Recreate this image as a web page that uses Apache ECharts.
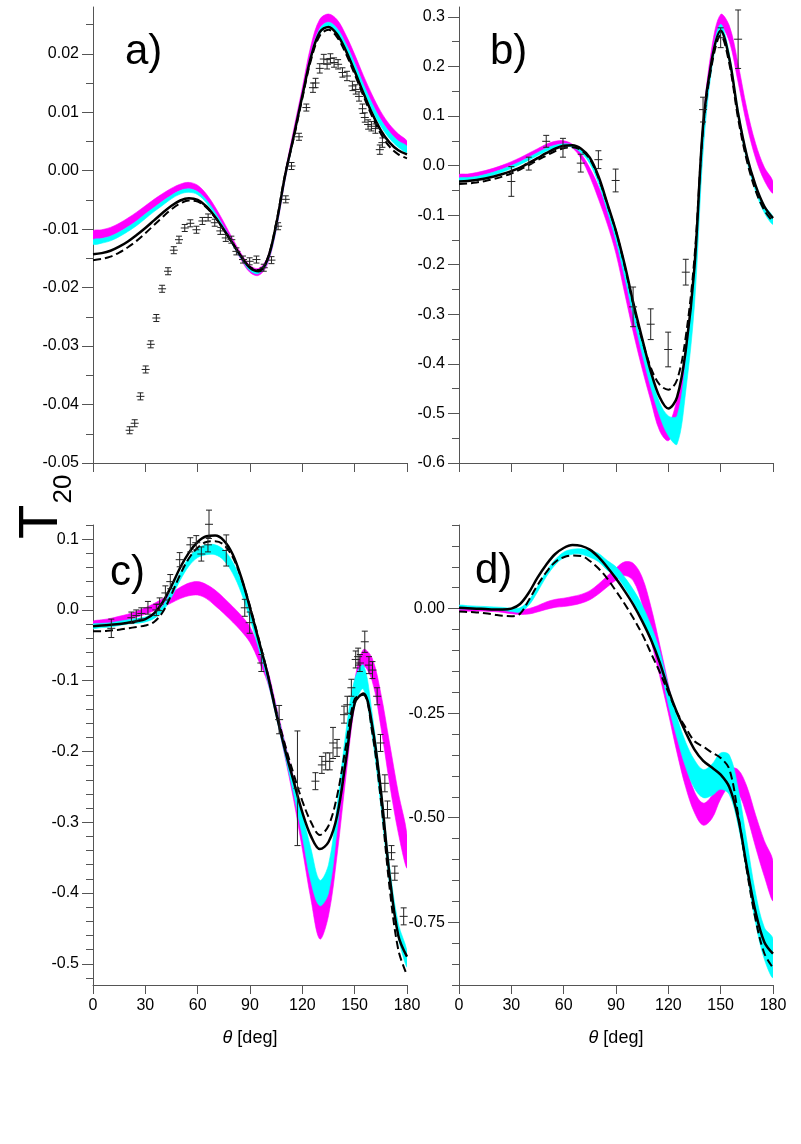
<!DOCTYPE html>
<html>
<head>
<meta charset="utf-8">
<script src="https://cdn.jsdelivr.net/npm/echarts@6/dist/echarts.min.js"></script>
<style>
  html, body { margin: 0; background: #fff; }
  #chart { width: 801px; height: 1144px; }
</style>
</head>
<body>
<div id="chart"></div>
<script>
// angle grid for the calculated curves
const theta = [0,5,10,15,20,25,30,35,40,45,50,55,60,65,70,75,80,85,90,95,100,105,110,115,120,125,130,135,140,145,150,155,160,165,170,175,180];
const xTicks = [0,30,60,90,120,150,180];

// ---- panel a ----
const aMajor = [-0.05,-0.04,-0.03,-0.02,-0.01,0,0.01,0.02];
const aMinor = [-0.045,-0.035,-0.025,-0.015,-0.005,0.005,0.015,0.025];
const aMagLo = [-0.0118,-0.0116,-0.0112,-0.0105,-0.0096,-0.0086,-0.0074,-0.0063,-0.0052,-0.0042,-0.0034,-0.0031,-0.0036,-0.0050,-0.0072,-0.0098,-0.0126,-0.0153,-0.0174,-0.0179,-0.0160,-0.0102,-0.0018,0.0056,0.0128,0.0200,0.0244,0.0254,0.0243,0.0217,0.0184,0.0148,0.0115,0.0087,0.0066,0.0051,0.0042];
const aMagHi = [-0.0103,-0.0101,-0.0097,-0.0090,-0.0081,-0.0071,-0.0060,-0.0049,-0.0039,-0.0030,-0.0023,-0.0020,-0.0025,-0.0040,-0.0062,-0.0088,-0.0116,-0.0142,-0.0162,-0.0167,-0.0148,-0.0090,-0.0005,0.0070,0.0142,0.0215,0.0259,0.0268,0.0258,0.0232,0.0199,0.0163,0.0130,0.0101,0.0079,0.0063,0.0051];
const aCyanLo = [-0.0126,-0.0124,-0.0120,-0.0113,-0.0104,-0.0094,-0.0082,-0.0070,-0.0059,-0.0048,-0.0040,-0.0037,-0.0041,-0.0055,-0.0076,-0.0101,-0.0127,-0.0151,-0.0171,-0.0176,-0.0157,-0.0100,-0.0016,0.0054,0.0124,0.0192,0.0234,0.0245,0.0233,0.0206,0.0173,0.0137,0.0104,0.0076,0.0055,0.0040,0.0031];
const aCyanHi = [-0.0118,-0.0116,-0.0112,-0.0105,-0.0096,-0.0086,-0.0074,-0.0063,-0.0052,-0.0042,-0.0034,-0.0031,-0.0036,-0.0050,-0.0071,-0.0096,-0.0122,-0.0146,-0.0166,-0.0170,-0.0150,-0.0093,-0.0008,0.0062,0.0132,0.0200,0.0243,0.0254,0.0243,0.0217,0.0184,0.0148,0.0115,0.0087,0.0066,0.0051,0.0042];
const aSolid = [-0.0143,-0.0141,-0.0137,-0.0130,-0.0121,-0.0110,-0.0098,-0.0085,-0.0072,-0.0060,-0.0051,-0.0047,-0.0050,-0.0061,-0.0079,-0.0101,-0.0124,-0.0147,-0.0166,-0.0172,-0.0152,-0.0092,-0.0010,0.0058,0.0128,0.0195,0.0237,0.0246,0.0233,0.0205,0.0170,0.0133,0.0098,0.0069,0.0048,0.0035,0.0028];
const aDashed = [-0.0153,-0.0151,-0.0147,-0.0140,-0.0131,-0.0120,-0.0107,-0.0093,-0.0079,-0.0066,-0.0056,-0.0051,-0.0053,-0.0063,-0.0080,-0.0101,-0.0124,-0.0147,-0.0165,-0.0170,-0.0151,-0.0090,-0.0008,0.0055,0.0124,0.0190,0.0231,0.0241,0.0228,0.0200,0.0165,0.0128,0.0093,0.0063,0.0041,0.0028,0.0021];
const aPtTheta = [21.0,23.9,27.2,30.2,33.1,36.3,39.6,43.0,46.3,49.3,52.6,55.8,59.3,62.7,66.0,69.8,73.0,76.1,79.3,82.2,86.0,89.8,93.7,97.9,102.3,106.1,110.5,113.8,118.1,122.3,126.1,127.6,130.0,132.3,134.2,136.1,138.2,140.5,143.0,145.6,148.7,150.6,152.5,154.5,155.8,157.7,159.6,161.9,164.4,165.9];
const aPtVal = [-0.0444,-0.0432,-0.0386,-0.0340,-0.0297,-0.0252,-0.0202,-0.0172,-0.0136,-0.0118,-0.0098,-0.0090,-0.0101,-0.0086,-0.0080,-0.0089,-0.0103,-0.0115,-0.0118,-0.0138,-0.0152,-0.0155,-0.0152,-0.0166,-0.0153,-0.0095,-0.0049,0.0008,0.0058,0.0108,0.0142,0.0150,0.0175,0.0191,0.0182,0.0192,0.0185,0.0182,0.0168,0.0162,0.0145,0.0139,0.0127,0.0106,0.0091,0.0079,0.0076,0.0072,0.0036,0.0048];
const aPtErr = [0.0006,0.0006,0.0006,0.0006,0.0006,0.0006,0.0006,0.0006,0.0006,0.0006,0.0006,0.0006,0.0006,0.0006,0.0006,0.0006,0.0006,0.0006,0.0006,0.0006,0.0006,0.0006,0.0006,0.0006,0.0006,0.0006,0.0006,0.0006,0.0006,0.0006,0.0008,0.0008,0.0008,0.0008,0.0008,0.0008,0.0008,0.0008,0.0008,0.0008,0.0008,0.0008,0.0008,0.0008,0.0008,0.0008,0.0008,0.0008,0.0008,0.0008];

// ---- panel b ----
const bMajor = [-0.6,-0.5,-0.4,-0.3,-0.2,-0.1,0,0.1,0.2,0.3];
const bMinor = [-0.55,-0.45,-0.35,-0.25,-0.15,-0.05,0.05,0.15,0.25];
const bMagLo = [-0.026,-0.025,-0.022,-0.018,-0.013,-0.007,0.000,0.008,0.017,0.026,0.035,0.041,0.043,0.036,0.014,-0.022,-0.068,-0.118,-0.178,-0.258,-0.338,-0.410,-0.475,-0.535,-0.555,-0.520,-0.420,-0.240,0.045,0.205,0.280,0.250,0.168,0.082,0.015,-0.030,-0.056];
const bMagHi = [-0.018,-0.017,-0.014,-0.010,-0.005,0.001,0.008,0.016,0.025,0.034,0.043,0.049,0.050,0.043,0.024,-0.005,-0.042,-0.088,-0.142,-0.218,-0.298,-0.372,-0.440,-0.500,-0.520,-0.470,-0.370,-0.200,0.090,0.240,0.305,0.282,0.205,0.115,0.045,-0.003,-0.032];
const bCyanLo = [-0.031,-0.030,-0.028,-0.024,-0.019,-0.013,-0.006,0.002,0.011,0.020,0.029,0.035,0.039,0.037,0.026,0.004,-0.036,-0.092,-0.152,-0.226,-0.306,-0.380,-0.448,-0.505,-0.545,-0.562,-0.455,-0.280,0.030,0.198,0.268,0.208,0.098,0.010,-0.052,-0.095,-0.119];
const bCyanHi = [-0.025,-0.024,-0.022,-0.018,-0.013,-0.007,0.000,0.008,0.017,0.026,0.035,0.041,0.044,0.042,0.032,0.012,-0.026,-0.080,-0.138,-0.209,-0.287,-0.358,-0.422,-0.478,-0.505,-0.505,-0.392,-0.215,0.078,0.220,0.285,0.225,0.112,0.024,-0.038,-0.080,-0.103];
const bSolid = [-0.032,-0.031,-0.029,-0.026,-0.022,-0.017,-0.011,-0.004,0.005,0.015,0.025,0.034,0.040,0.041,0.034,0.016,-0.022,-0.076,-0.132,-0.200,-0.278,-0.349,-0.416,-0.467,-0.490,-0.467,-0.372,-0.204,0.085,0.215,0.272,0.215,0.105,0.020,-0.040,-0.082,-0.106];
const bDashed = [-0.037,-0.036,-0.034,-0.031,-0.027,-0.022,-0.016,-0.008,0.001,0.011,0.020,0.029,0.035,0.037,0.031,0.013,-0.025,-0.078,-0.133,-0.203,-0.282,-0.352,-0.408,-0.442,-0.452,-0.432,-0.345,-0.185,0.078,0.205,0.263,0.205,0.095,0.010,-0.050,-0.090,-0.113];
const bPtTheta = [30,40,50,59.6,69.8,79.9,89.8,99.8,109.9,119.9,130,139.9,150,160];
const bPtVal = [-0.032,0.004,0.049,0.036,0.005,0.012,-0.030,-0.285,-0.320,-0.371,-0.215,0.113,0.258,0.255];
const bPtErr = [0.030,0.013,0.012,0.019,0.018,0.018,0.023,0.040,0.031,0.035,0.026,0.025,0.020,0.059];

// ---- panel c ----
const cMajor = [-0.5,-0.4,-0.3,-0.2,-0.1,0,0.1];
const cMinor = [-0.52,-0.48,-0.46,-0.44,-0.42,-0.38,-0.36,-0.34,-0.32,-0.28,-0.26,-0.24,-0.22,-0.18,-0.16,-0.14,-0.12,-0.08,-0.06,-0.04,-0.02,0.02,0.04,0.06,0.08,0.12];
const cMagLo = [-0.022,-0.021,-0.019,-0.017,-0.014,-0.010,-0.006,-0.001,0.004,0.010,0.016,0.020,0.021,0.016,0.006,-0.005,-0.017,-0.030,-0.046,-0.072,-0.102,-0.150,-0.207,-0.268,-0.338,-0.410,-0.465,-0.432,-0.345,-0.235,-0.135,-0.080,-0.100,-0.165,-0.245,-0.315,-0.365];
const cMagHi = [-0.016,-0.014,-0.012,-0.009,-0.006,-0.002,0.003,0.009,0.016,0.024,0.032,0.038,0.040,0.036,0.028,0.017,0.005,-0.008,-0.024,-0.052,-0.084,-0.135,-0.187,-0.238,-0.293,-0.352,-0.405,-0.375,-0.295,-0.190,-0.100,-0.056,-0.068,-0.118,-0.188,-0.258,-0.318];
const cCyanLo = [-0.026,-0.025,-0.024,-0.022,-0.020,-0.019,-0.017,-0.012,-0.002,0.018,0.042,0.062,0.074,0.078,0.078,0.070,0.052,0.024,-0.013,-0.055,-0.099,-0.151,-0.205,-0.260,-0.320,-0.385,-0.418,-0.400,-0.310,-0.205,-0.135,-0.112,-0.178,-0.277,-0.388,-0.463,-0.505];
const cCyanHi = [-0.020,-0.019,-0.018,-0.016,-0.014,-0.012,-0.010,-0.004,0.006,0.028,0.053,0.074,0.087,0.092,0.092,0.085,0.068,0.041,0.004,-0.040,-0.086,-0.139,-0.190,-0.240,-0.288,-0.338,-0.382,-0.360,-0.275,-0.172,-0.098,-0.078,-0.146,-0.248,-0.362,-0.443,-0.482];
const cSolid = [-0.023,-0.022,-0.021,-0.020,-0.018,-0.016,-0.013,-0.005,0.011,0.034,0.060,0.081,0.096,0.104,0.105,0.098,0.079,0.046,0.003,-0.043,-0.090,-0.146,-0.197,-0.242,-0.286,-0.320,-0.338,-0.328,-0.290,-0.212,-0.132,-0.118,-0.163,-0.255,-0.375,-0.460,-0.490];
const cDashed = [-0.030,-0.030,-0.029,-0.028,-0.026,-0.024,-0.022,-0.017,-0.003,0.022,0.050,0.073,0.088,0.096,0.097,0.092,0.075,0.045,0.005,-0.041,-0.089,-0.143,-0.190,-0.232,-0.270,-0.300,-0.318,-0.305,-0.262,-0.192,-0.126,-0.120,-0.172,-0.268,-0.392,-0.480,-0.516];
const cPtTheta = [10.5,22.0,24.8,27.7,31.5,36.3,38.2,41.5,44.3,49.7,55.8,59.2,62.1,65.9,66.5,76.4,87.0,89.8,96.5,106.7,117.2,127.5,131.2,133.4,135.7,137.6,139.9,143.9,145.8,148.1,150.6,152.0,153.0,155.8,158.2,160.2,162.9,164.8,167.3,168.8,171.1,173.0,178.1];
const cPtVal = [-0.026,-0.011,-0.008,-0.005,0.003,0.000,0.008,0.024,0.040,0.071,0.092,0.095,0.079,0.092,0.121,0.084,0.003,-0.018,-0.075,-0.155,-0.252,-0.242,-0.219,-0.214,-0.214,-0.188,-0.195,-0.148,-0.134,-0.110,-0.070,-0.066,-0.075,-0.045,-0.078,-0.085,-0.122,-0.188,-0.245,-0.282,-0.343,-0.372,-0.433];
const cPtErr = [0.013,0.008,0.008,0.008,0.009,0.008,0.009,0.010,0.010,0.010,0.010,0.010,0.010,0.010,0.020,0.022,0.012,0.015,0.012,0.020,0.081,0.012,0.012,0.012,0.012,0.022,0.012,0.012,0.012,0.012,0.012,0.012,0.012,0.015,0.012,0.012,0.012,0.012,0.012,0.012,0.010,0.010,0.012];

// ---- panel d ----
const dMajor = [-0.75,-0.5,-0.25,0];
const dMinor = [-0.9,-0.85,-0.8,-0.7,-0.65,-0.6,-0.55,-0.45,-0.4,-0.35,-0.3,-0.2,-0.15,-0.1,-0.05,0.05,0.1,0.15,0.2];
const dMagLo = [-0.006,-0.006,-0.006,-0.006,-0.007,-0.009,-0.012,-0.014,-0.013,-0.008,-0.002,0.003,0.005,0.008,0.013,0.021,0.035,0.052,0.068,0.079,0.066,0.010,-0.075,-0.160,-0.250,-0.345,-0.428,-0.488,-0.518,-0.502,-0.455,-0.427,-0.440,-0.495,-0.570,-0.640,-0.698];
const dMagHi = [0.001,0.001,0.001,0.001,0.000,-0.001,-0.003,-0.003,0.000,0.007,0.016,0.022,0.025,0.029,0.034,0.043,0.059,0.078,0.097,0.112,0.108,0.075,0.005,-0.085,-0.180,-0.280,-0.370,-0.438,-0.465,-0.447,-0.403,-0.382,-0.385,-0.425,-0.493,-0.555,-0.604];
const dCyanLo = [0.000,0.000,-0.001,-0.002,-0.002,-0.004,-0.007,-0.008,0.008,0.040,0.076,0.104,0.122,0.130,0.130,0.123,0.112,0.092,0.078,0.050,0.015,-0.025,-0.075,-0.135,-0.230,-0.310,-0.380,-0.430,-0.452,-0.447,-0.432,-0.445,-0.518,-0.632,-0.752,-0.838,-0.882];
const dCyanHi = [0.008,0.007,0.006,0.005,0.004,0.003,0.001,0.002,0.020,0.053,0.089,0.117,0.135,0.142,0.143,0.139,0.132,0.115,0.100,0.075,0.045,0.008,-0.040,-0.100,-0.185,-0.260,-0.320,-0.362,-0.385,-0.372,-0.345,-0.350,-0.430,-0.555,-0.680,-0.762,-0.790];
const dSolid = [0.002,0.001,0.000,-0.001,-0.002,-0.002,0.000,0.011,0.038,0.074,0.105,0.130,0.145,0.152,0.150,0.141,0.123,0.099,0.072,0.042,0.009,-0.030,-0.074,-0.128,-0.193,-0.249,-0.296,-0.337,-0.364,-0.380,-0.397,-0.427,-0.500,-0.617,-0.725,-0.797,-0.825];
const dDashed = [-0.007,-0.008,-0.009,-0.011,-0.014,-0.017,-0.018,-0.012,0.020,0.056,0.087,0.111,0.123,0.127,0.126,0.114,0.096,0.072,0.042,0.011,-0.023,-0.061,-0.106,-0.151,-0.200,-0.249,-0.285,-0.317,-0.330,-0.344,-0.357,-0.384,-0.492,-0.626,-0.743,-0.824,-0.859];

const FONT = '"Liberation Sans", Arial, sans-serif';
const AXIS = '#555';
const SMOOTH = 0.35;

const panels = [
  { left: 93, top: 7, height: 456, min: -0.05, max: 0.028, major: aMajor, minor: aMinor, digits: 2, xLabels: false,
    mag: [aMagLo, aMagHi], cyan: [aCyanLo, aCyanHi], solid: aSolid, dashed: aDashed, pts: [aPtTheta, aPtVal, aPtErr] },
  { left: 459, top: 7, height: 456, min: -0.6, max: 0.32, major: bMajor, minor: bMinor, digits: 1, xLabels: false,
    mag: [bMagLo, bMagHi], cyan: [bCyanLo, bCyanHi], solid: bSolid, dashed: bDashed, pts: [bPtTheta, bPtVal, bPtErr] },
  { left: 93, top: 525, height: 460, min: -0.53, max: 0.12, major: cMajor, minor: cMinor, digits: 1, xLabels: true,
    mag: [cMagLo, cMagHi], cyan: [cCyanLo, cCyanHi], solid: cSolid, dashed: cDashed, pts: [cPtTheta, cPtVal, cPtErr] },
  { left: 459, top: 525, height: 460, min: -0.9, max: 0.2, major: dMajor, minor: dMinor, digits: 2, xLabels: true,
    mag: [dMagLo, dMagHi], cyan: [dCyanLo, dCyanHi], solid: dSolid, dashed: dDashed, pts: null }
];

const pairs = arr => theta.map((t, k) => [t, arr[k]]);

const grid = [], xAxis = [], yAxis = [], series = [];

panels.forEach((p, i) => {
  grid.push({ left: p.left, top: p.top, width: 314, height: p.height, outerBoundsMode: 'none' });

  xAxis.push({
    gridIndex: i, type: 'value', min: 0, max: 180, interval: 30, position: 'bottom',
    axisLine: { show: true, onZero: false, lineStyle: { color: AXIS, width: 1 } },
    axisTick: { show: true, length: 9, customValues: xTicks, lineStyle: { color: AXIS } },
    axisLabel: { show: p.xLabels, customValues: xTicks, color: '#000', fontSize: 16, fontFamily: FONT, margin: 13 },
    splitLine: { show: false },
    name: p.xLabels ? '{i|θ} [deg]' : '',
    nameLocation: 'middle', nameGap: 44,
    nameTextStyle: { color: '#000', fontSize: 18, fontFamily: FONT,
      rich: { i: { fontStyle: 'italic', fontSize: 18, fontFamily: FONT, color: '#000' } } }
  });

  // major ticks + labels
  yAxis.push({
    gridIndex: i, type: 'value', min: p.min, max: p.max, position: 'left',
    axisLine: { show: true, onZero: false, lineStyle: { color: AXIS, width: 1 } },
    axisTick: { show: true, length: 11, customValues: p.major, lineStyle: { color: AXIS } },
    axisLabel: { show: true, customValues: p.major, color: '#000', fontSize: 16, fontFamily: FONT, margin: 14,
      formatter: v => v.toFixed(p.digits) },
    splitLine: { show: false }
  });
  // minor ticks
  yAxis.push({
    gridIndex: i, type: 'value', min: p.min, max: p.max, position: 'left',
    axisLine: { show: false, onZero: false },
    axisTick: { show: true, length: 7, customValues: p.minor, lineStyle: { color: AXIS } },
    axisLabel: { show: false },
    splitLine: { show: false }
  });

  const yi = 2 * i;
  // a band is one polygon: upper edge left->right, lower edge right->left
  const band = (lohi, color) => {
    const [lo, hi] = lohi;
    series.push({
      type: 'custom', xAxisIndex: i, yAxisIndex: yi, silent: true, clip: true, z: 1,
      data: theta.map((t, k) => [t, lo[k], hi[k]]),
      renderItem: (params, api) => {
        if (params.dataIndex !== 0) return null;
        const up = theta.map((t, k) => api.coord([t, hi[k]]));
        const dn = theta.map((t, k) => api.coord([t, lo[k]])).reverse();
        return {
          type: 'polygon',
          shape: { points: up.concat(dn), smooth: SMOOTH },
          style: { fill: color, stroke: color, lineWidth: 0.6 }
        };
      }
    });
  };
  band(p.mag, '#ff00ff');
  band(p.cyan, '#00ffff');

  series.push({
    type: 'line', xAxisIndex: i, yAxisIndex: yi, data: pairs(p.dashed), smooth: SMOOTH, symbol: 'none', silent: true, z: 3,
    lineStyle: { color: '#000', width: 2, type: [8, 4] }
  });
  series.push({
    type: 'line', xAxisIndex: i, yAxisIndex: yi, data: pairs(p.solid), smooth: SMOOTH, symbol: 'none', silent: true, z: 3,
    lineStyle: { color: '#000', width: 2.5 }
  });

  if (p.pts) {
    const [pt, pv, pe] = p.pts;
    series.push({
      type: 'custom', xAxisIndex: i, yAxisIndex: yi, silent: true, z: 5,
      data: pt.map((t, k) => [t, pv[k], pe[k]]),
      renderItem: (params, api) => {
        const x = api.value(0), y = api.value(1), e = api.value(2);
        const top = api.coord([x, y + e]);
        const bot = api.coord([x, y - e]);
        const mid = api.coord([x, y]);
        const st = { stroke: '#222', lineWidth: 1 };
        const cap = 3, arm = 4;
        return {
          type: 'group',
          children: [
            { type: 'line', shape: { x1: top[0], y1: top[1], x2: bot[0], y2: bot[1] }, style: st },
            { type: 'line', shape: { x1: top[0] - cap, y1: top[1], x2: top[0] + cap, y2: top[1] }, style: st },
            { type: 'line', shape: { x1: bot[0] - cap, y1: bot[1], x2: bot[0] + cap, y2: bot[1] }, style: st },
            { type: 'line', shape: { x1: mid[0] - arm, y1: mid[1], x2: mid[0] + arm, y2: mid[1] }, style: st }
          ]
        };
      }
    });
  }
});

const chart = echarts.init(document.getElementById('chart'));
chart.setOption({
  animation: false,
  backgroundColor: '#fff',
  grid, xAxis, yAxis, series,
  graphic: [
    { type: 'text', x: 125, y: 52, style: { text: 'a)', fontSize: 42, fontFamily: FONT, fill: '#000', align: 'left', verticalAlign: 'middle' } },
    { type: 'text', x: 490, y: 52, style: { text: 'b)', fontSize: 42, fontFamily: FONT, fill: '#000', align: 'left', verticalAlign: 'middle' } },
    { type: 'text', x: 110, y: 573, style: { text: 'c)', fontSize: 42, fontFamily: FONT, fill: '#000', align: 'left', verticalAlign: 'middle' } },
    { type: 'text', x: 475, y: 571, style: { text: 'd)', fontSize: 42, fontFamily: FONT, fill: '#000', align: 'left', verticalAlign: 'middle' } },
    { type: 'text', x: 42, y: 522, rotation: Math.PI / 2, style: { text: 'T', fontSize: 56, fontFamily: FONT, fill: '#000', align: 'center', verticalAlign: 'middle' } },
    { type: 'text', x: 64, y: 489, rotation: Math.PI / 2, style: { text: '20', fontSize: 26, fontFamily: FONT, fill: '#000', align: 'center', verticalAlign: 'middle' } }
  ]
});
</script>
</body>
</html>
